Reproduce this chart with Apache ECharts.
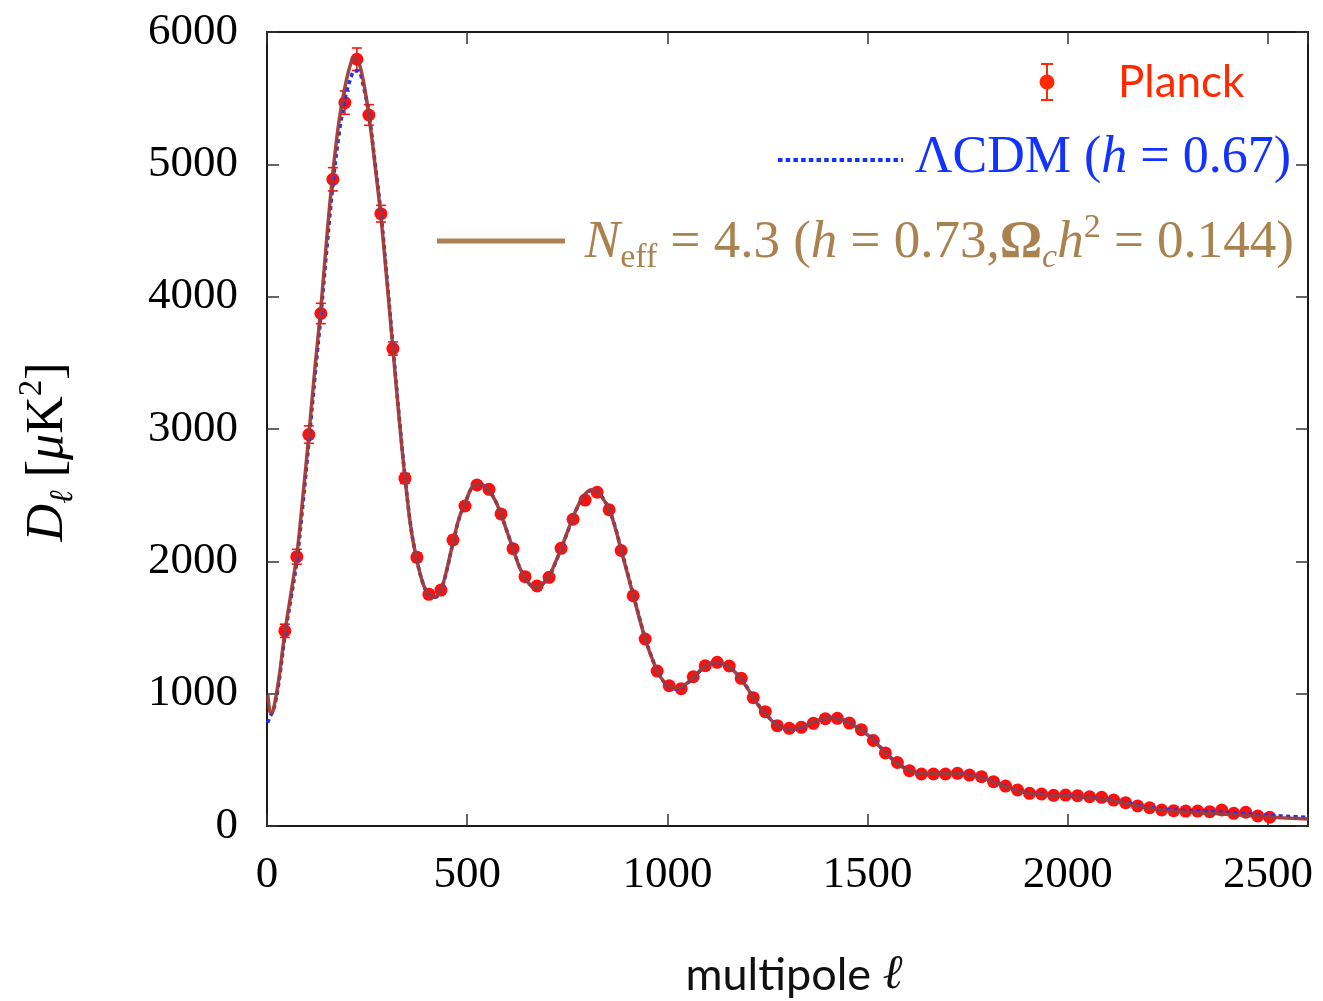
<!DOCTYPE html>
<html>
<head>
<meta charset="utf-8">
<script src="https://cdn.jsdelivr.net/npm/echarts@6/dist/echarts.min.js"></script>
<style>
  html, body { margin: 0; padding: 0; background: #ffffff; }
  #chart { width: 1323px; height: 1001px; }
</style>
</head>
<body>
<div id="chart"></div>
<script>
// Planck binned TT band powers: bin centres (multipole) and D_ell in muK^2
const planckEll = [
  44.5, 74.5, 104.5, 134.5, 164.5, 194.5, 224.5, 254.5, 284.5, 314.5,
  344.5, 374.5, 404.5, 434.5, 464.5, 494.5, 524.5, 554.5, 584.5, 614.5,
  644.5, 674.5, 704.5, 734.5, 764.5, 794.5, 824.5, 854.5, 884.5, 914.5,
  944.5, 974.5, 1004.5, 1034.5, 1064.5, 1094.5, 1124.5, 1154.5, 1184.5, 1214.5,
  1244.5, 1274.5, 1304.5, 1334.5, 1364.5, 1394.5, 1424.5, 1454.5, 1484.5, 1514.5,
  1544.5, 1574.5, 1604.5, 1634.5, 1664.5, 1694.5, 1724.5, 1754.5, 1784.5, 1814.5,
  1844.5, 1874.5, 1904.5, 1934.5, 1964.5, 1994.5, 2024.5, 2054.5, 2084.5, 2114.5,
  2144.5, 2174.5, 2204.5, 2234.5, 2264.5, 2294.5, 2324.5, 2354.5, 2384.5, 2414.5,
  2444.5, 2474.5, 2504.5
];
const planckDl = [
  1475, 2035, 2958, 3873, 4887, 5466, 5794, 5373, 4627, 3608,
  2627, 2030, 1751, 1783, 2161, 2418, 2577, 2544, 2358, 2096,
  1884, 1814, 1879, 2098, 2318, 2463, 2522, 2390, 2082, 1740,
  1413, 1171, 1060, 1038, 1128, 1211, 1237, 1209, 1116, 970,
  864, 758, 738, 746, 776, 811, 814, 778, 728, 646,
  552, 480, 418, 393, 393, 393, 398, 385, 373, 335,
  302, 272, 247, 242, 232, 234, 229, 221, 217, 196,
  176, 151, 138, 121, 116, 113, 113, 108, 121, 96,
  104, 76, 66
];
const planckErr = [
  50, 56, 66, 77, 88, 88, 85, 78, 63, 50,
  38, 32, 29, 28, 28, 27, 27, 27, 26, 25,
  24, 24, 24, 24, 24, 24, 23, 22, 21, 20,
  19, 18, 17, 17, 17, 17, 17, 16, 16, 15,
  15, 14, 14, 14, 14, 14, 14, 14, 14, 13,
  13, 13, 12, 12, 12, 12, 12, 12, 12, 12,
  12, 12, 12, 12, 12, 12, 12, 12, 13, 13,
  13, 13, 14, 14, 14, 15, 15, 16, 16, 17,
  17, 18, 19
];

// Model spectra sampled in multipole
const theoryEll = [
  2, 4, 6, 8, 12, 20, 30, 45, 60, 75, 90, 105, 120, 135, 150, 165, 180, 195,
  210, 218, 228, 240, 255, 270, 285, 300, 315, 330, 345, 360, 375, 390, 405, 420,
  435, 450, 465, 480, 495, 510, 525, 540, 555, 570, 585, 600, 615, 630, 645, 660,
  675, 690, 705, 720, 735, 750, 765, 780, 795, 810, 825, 840, 855, 870, 885, 900,
  915, 930, 945, 960, 975, 990, 1005, 1020, 1035, 1050, 1065, 1080, 1095, 1110,
  1125, 1140, 1155, 1170, 1185, 1200, 1215, 1230, 1245, 1260, 1275, 1290, 1305,
  1320, 1335, 1350, 1365, 1380, 1395, 1410, 1425, 1440, 1455, 1470, 1485, 1500,
  1515, 1530, 1545, 1560, 1575, 1590, 1605, 1620, 1635, 1650, 1665, 1680, 1700,
  1720, 1740, 1760, 1780, 1800, 1820, 1840, 1860, 1880, 1900, 1920, 1940, 1960,
  1980, 2000, 2020, 2040, 2060, 2080, 2100, 2120, 2140, 2160, 2180, 2200, 2230,
  2260, 2290, 2320, 2350, 2380, 2410, 2440, 2470, 2500, 2530, 2560, 2600
];
// N_eff = 4.3 model
const neffDl = [
  990, 930, 885, 860, 855, 940, 1120, 1470, 1760, 2060, 2500, 2970, 3470, 3930, 4470, 4950, 5330, 5590,
  5770, 5805, 5780, 5640, 5360, 4990, 4590, 4100, 3590, 3080, 2620, 2240, 2000, 1830, 1740, 1728,
  1790, 1950, 2150, 2330, 2440, 2550, 2585, 2575, 2530, 2460, 2350, 2220, 2090, 1960, 1870, 1815,
  1800, 1835, 1890, 1990, 2100, 2220, 2340, 2440, 2510, 2540, 2525, 2470, 2390, 2250, 2080, 1910,
  1740, 1570, 1410, 1280, 1170, 1095, 1055, 1040, 1050, 1082, 1125, 1170, 1208, 1232,
  1238, 1228, 1200, 1160, 1105, 1040, 968, 900, 850, 798, 760, 740, 733,
  736, 748, 766, 786, 803, 813, 817, 813, 800, 778, 752, 722, 688,
  648, 600, 552, 508, 470, 440, 418, 404, 397, 394, 394, 396, 398,
  397, 392, 382, 368, 350, 328, 303, 280, 262, 250, 242, 236, 232,
  229, 226, 222, 218, 212, 205, 196, 186, 173, 160, 148, 136, 122,
  112, 106, 101, 96, 92, 87, 81, 75, 69, 63, 58, 53
];
// LambdaCDM model, h = 0.67
const lcdmDl = [
  780, 800, 815, 830, 850, 920, 1090, 1440, 1720, 2010, 2440, 2910, 3400, 3870, 4380, 4860, 5230, 5500,
  5660, 5705, 5705, 5600, 5370, 5010, 4620, 4130, 3610, 3100, 2630, 2245, 2000, 1830, 1742, 1728,
  1788, 1945, 2145, 2325, 2438, 2548, 2583, 2575, 2532, 2462, 2352, 2222, 2092, 1962, 1872, 1816,
  1800, 1833, 1888, 1986, 2096, 2216, 2336, 2436, 2506, 2536, 2524, 2472, 2392, 2256, 2088, 1918,
  1748, 1576, 1414, 1282, 1170, 1094, 1052, 1036, 1046, 1078, 1122, 1168, 1206, 1230,
  1236, 1227, 1201, 1162, 1108, 1044, 972, 904, 852, 800, 762, 741, 733,
  735, 746, 764, 784, 801, 812, 816, 813, 801, 780, 755, 725, 691,
  652, 604, 556, 512, 474, 443, 421, 406, 398, 395, 395, 397, 399,
  398, 394, 384, 370, 352, 330, 306, 283, 265, 253, 245, 239, 235,
  232, 229, 225, 221, 215, 208, 200, 190, 178, 166, 154, 142, 130,
  122, 118, 114, 110, 105, 99, 93, 87, 81, 76, 71, 66
];

// Axis ranges and tick steps
const xRange = [0, 2600];
const xStep = 500;
const yRange = [0, 6000];
const yStep = 1000;

const serif = '"Liberation Serif", "DejaVu Serif", serif';
const sans = 'Lato, "Open Sans", sans-serif';
const planckRed = '#ff1010';
const lcdmBlue = '#1233ff';
const neffCurve = '#a23a35';
const neffLegend = '#a9824f';

const chart = echarts.init(document.getElementById('chart'), null, { renderer: 'canvas' });

const tickStyle = { show: true, inside: true, length: 12, lineStyle: { color: '#333', width: 1.5 } };
const frameLine = { show: true, onZero: false, lineStyle: { color: '#1a1a1a', width: 2 } };

// rich-text styles shared by the math-like labels
function mathRich(color, size) {
  const sub = Math.round(size * 0.64);
  return {
    r: { fontFamily: serif, fontSize: size, fill: color, lineHeight: 64 },
    i: { fontFamily: serif, fontSize: size, fontStyle: 'italic', fill: color, lineHeight: 64 },
    b: { fontFamily: serif, fontSize: size, fontWeight: 'bold', fill: color, lineHeight: 64 },
    sub: { fontFamily: serif, fontSize: sub, fill: color, lineHeight: 30, verticalAlign: 'bottom' },
    isub: { fontFamily: serif, fontSize: sub, fontStyle: 'italic', fill: color, lineHeight: 30, verticalAlign: 'bottom' },
    sup: { fontFamily: serif, fontSize: sub, fill: color, lineHeight: 34, verticalAlign: 'top' }
  };
}

const option = {
  backgroundColor: '#ffffff',
  animation: false,
  grid: { left: 267, right: 15, top: 32, bottom: 175, containLabel: false },
  xAxis: [
    {
      type: 'value', min: xRange[0], max: xRange[1], interval: xStep,
      axisLine: frameLine, axisTick: tickStyle, splitLine: { show: false },
      axisLabel: {
        margin: 27, color: '#000', fontFamily: serif, fontSize: 45,
        formatter: v => (v % xStep === 0 ? String(v) : '')
      }
    },
    {
      type: 'value', position: 'top', min: xRange[0], max: xRange[1], interval: xStep,
      axisLine: frameLine, axisTick: tickStyle, splitLine: { show: false },
      axisLabel: { show: false }
    }
  ],
  yAxis: [
    {
      type: 'value', min: yRange[0], max: yRange[1], interval: yStep,
      axisLine: frameLine, axisTick: tickStyle, splitLine: { show: false },
      axisLabel: { margin: 29, color: '#000', fontFamily: serif, fontSize: 45, formatter: v => String(v) }
    },
    {
      type: 'value', position: 'right', min: yRange[0], max: yRange[1], interval: yStep,
      axisLine: frameLine, axisTick: tickStyle, splitLine: { show: false },
      axisLabel: { show: false }
    }
  ],
  series: [
    {
      name: 'Planck error',
      type: 'custom',
      z: 1,
      data: planckEll.map((l, i) => [l, planckDl[i] - planckErr[i], planckDl[i] + planckErr[i]]),
      encode: { x: 0, y: [1, 2] },
      renderItem(params, api) {
        const x = api.value(0);
        const lo = api.coord([x, api.value(1)]);
        const hi = api.coord([x, api.value(2)]);
        const cap = 5;
        const style = { stroke: planckRed, lineWidth: 1.6 };
        return {
          type: 'group',
          children: [
            { type: 'line', shape: { x1: lo[0], y1: lo[1], x2: hi[0], y2: hi[1] }, style },
            { type: 'line', shape: { x1: lo[0] - cap, y1: lo[1], x2: lo[0] + cap, y2: lo[1] }, style },
            { type: 'line', shape: { x1: hi[0] - cap, y1: hi[1], x2: hi[0] + cap, y2: hi[1] }, style }
          ]
        };
      }
    },
    {
      name: 'Planck',
      type: 'scatter',
      z: 2,
      symbol: 'circle',
      symbolSize: 13,
      itemStyle: { color: planckRed, opacity: 1 },
      data: planckEll.map((l, i) => [l, planckDl[i]])
    },
    {
      name: 'LCDM',
      type: 'line',
      z: 3,
      smooth: 0.35,
      showSymbol: false,
      lineStyle: { color: lcdmBlue, width: 3.5, type: [4, 3.5] },
      data: theoryEll.map((l, i) => [l, lcdmDl[i]])
    },
    {
      name: 'Neff',
      type: 'line',
      z: 4,
      smooth: 0.35,
      showSymbol: false,
      lineStyle: { color: neffCurve, width: 3.5, opacity: 0.95 },
      data: theoryEll.map((l, i) => [l, neffDl[i]])
    }
  ],
  graphic: [
    // Planck key
    { type: 'line', z: 10, shape: { x1: 1047, y1: 64, x2: 1047, y2: 100 }, style: { stroke: '#ff2a00', lineWidth: 2 } },
    { type: 'line', z: 10, shape: { x1: 1041, y1: 64, x2: 1053, y2: 64 }, style: { stroke: '#ff2a00', lineWidth: 2 } },
    { type: 'line', z: 10, shape: { x1: 1041, y1: 100, x2: 1053, y2: 100 }, style: { stroke: '#ff2a00', lineWidth: 2 } },
    { type: 'circle', z: 10, shape: { cx: 1047, cy: 82, r: 7.5 }, style: { fill: '#ff2a00' } },
    {
      type: 'text', z: 10, x: 1118, y: 83,
      style: { text: 'Planck', font: '44px ' + sans, fill: '#ff2a00', align: 'left', verticalAlign: 'middle' }
    },
    // LambdaCDM key
    { type: 'line', z: 10, shape: { x1: 778, y1: 160, x2: 903, y2: 160 }, style: { stroke: lcdmBlue, lineWidth: 4, lineDash: [4.5, 3.2] } },
    {
      type: 'text', z: 10, x: 1291, y: 158,
      style: {
        text: '{r|ΛCDM (}{i|h}{r| = 0.67)}',
        align: 'right', verticalAlign: 'middle', fill: lcdmBlue,
        rich: mathRich(lcdmBlue, 52)
      }
    },
    // N_eff key
    { type: 'line', z: 10, shape: { x1: 437, y1: 241, x2: 565, y2: 241 }, style: { stroke: neffLegend, lineWidth: 5 } },
    {
      type: 'text', z: 10, x: 1294, y: 243,
      style: {
        text: '{i|N}{sub|eff}{r| = 4.3 (}{i|h}{r| = 0.73,}{b|Ω}{isub|c}{i|h}{sup|2}{r| = 0.144)}',
        align: 'right', verticalAlign: 'middle', fill: neffLegend,
        rich: mathRich(neffLegend, 53)
      }
    },
    // Axis titles
    {
      type: 'text', z: 10, x: 48, y: 452, rotation: Math.PI / 2,
      style: {
        text: '{i|D}{isub|ℓ}{r| [}{i|μ}{r|K}{sup|2}{r|]}',
        align: 'center', verticalAlign: 'middle', fill: '#000',
        rich: mathRich('#000', 52)
      }
    },
    {
      type: 'text', z: 10, x: 794, y: 975,
      style: {
        text: '{s|multipole }{l|ℓ}',
        align: 'center', verticalAlign: 'middle', fill: '#111',
        rich: {
          s: { fontFamily: sans, fontSize: 45, fill: '#111', lineHeight: 54 },
          l: { fontFamily: serif, fontSize: 48, fontStyle: 'italic', fill: '#111', lineHeight: 54 }
        }
      }
    }
  ]
};

chart.setOption(option);
</script>
</body>
</html>
